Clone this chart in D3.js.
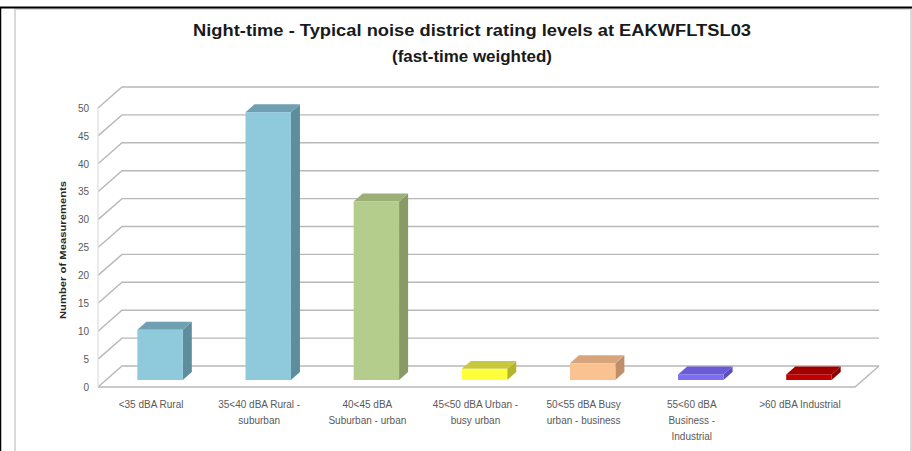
<!DOCTYPE html>
<html><head><meta charset="utf-8">
<script src="https://cdn.jsdelivr.net/npm/d3@7/dist/d3.min.js"></script>
<style>body{margin:0;background:#fff}svg{display:block}</style>
</head><body>
<script>
const categories = [
  ["<35 dBA Rural"],
  ["35<40 dBA Rural -","suburban"],
  ["40<45 dBA","Suburban - urban"],
  ["45<50 dBA Urban -","busy urban"],
  ["50<55 dBA Busy","urban - business"],
  ["55<60 dBA","Business -","Industrial"],
  [">60 dBA Industrial"]
];
const values = [9, 48, 32, 2, 3, 1, 1];
const frontColors = ["#8fc9dc","#8fc9dc","#b4cc8c","#ffff3c","#fac191","#7d6df0","#c00000"];
const topColors   = ["#6f9fb0","#6f9fb0","#9bb077","#c8c83c","#d8a47c","#6a5cd6","#a00000"];
const sideColors  = ["#5e8d9d","#5e8d9d","#889a66","#b4b42e","#bf8f6a","#5a4ec0","#8a0000"];
const yTicks = [0,5,10,15,20,25,30,35,40,45,50];
const titleLines = ["Night-time - Typical noise district rating levels at EAKWFLTSL03","(fast-time weighted)"];
const yTitle = "Number of Measurements";

const W = 912, H = 451;
const svg = d3.select("body").append("svg").attr("width", W).attr("height", H);

// frame
svg.append("rect").attr("x",15).attr("y",9).attr("width",W-16).attr("height",H).attr("fill","none").attr("stroke","#d9d9d9").attr("stroke-width",2);
svg.append("line").attr("x1",0).attr("x2",W).attr("y1",7.5).attr("y2",7.5).attr("stroke","#000").attr("stroke-width",2);
svg.append("line").attr("x1",0.5).attr("x2",0.5).attr("y1",7).attr("y2",H).attr("stroke","#000").attr("stroke-width",1.5);

// 3D oblique geometry
const DX = 24, DY = -21;
const x = d3.scaleBand().domain(d3.range(categories.length)).range([98, 855]).padding(0);
const y = d3.scaleLinear().domain([0, 50]).range([387, 108]);
const P = (px, py, f) => [px + DX*f, py + DY*f];

const grid = svg.append("g").attr("stroke","#b8b8b8").attr("stroke-width",1.4).attr("fill","none");
const x0 = x.range()[0], x1 = x.range()[1];
yTicks.forEach(t => {
  const a = P(x0, y(t), 0), b = P(x0, y(t), 1), c = P(x1, y(t), 1);
  grid.append("path").attr("d", d3.line()([a, b, c]));
});
grid.append("path").attr("d", d3.line()([P(x0,y(0),0), P(x1,y(0),0), P(x1,y(0),1)]));
grid.append("path").attr("d", d3.line()([P(x0,y(0),0), P(x0,y(50),0)])).attr("stroke","#e2e2e2");

// bars
const fF = 1/3, fB = 0.71;
const bw = x.bandwidth()*0.42;
const bars = svg.append("g");
values.forEach((v, i) => {
  const xl = x(i) + (x.bandwidth()-bw)/2;
  const xr = xl + bw;
  const [fxl, fyT] = P(xl, y(v), fF);
  const [fxr, fyB] = P(xr, y(0), fF);
  const ddx = DX*(fB-fF), ddy = DY*(fB-fF);
  const g = bars.append("g");
  g.append("path").attr("fill", sideColors[i]).attr("d", d3.line()([[fxr,fyT],[fxr+ddx,fyT+ddy],[fxr+ddx,fyB+ddy],[fxr,fyB]]) + "Z");
  g.append("path").attr("fill", topColors[i]).attr("d", d3.line()([[fxl,fyT],[fxl+ddx,fyT+ddy],[fxr+ddx,fyT+ddy],[fxr,fyT]]) + "Z");
  g.append("rect").attr("x", fxl).attr("y", fyT).attr("width", fxr-fxl).attr("height", Math.max(0, fyB-fyT)).attr("fill", frontColors[i]);
});

// y axis
const yAxis = d3.axisLeft(y).tickValues(yTicks).tickSize(0).tickPadding(0);
const ya = svg.append("g").attr("transform","translate(89,0)").call(yAxis);
ya.select(".domain").remove();
ya.selectAll("text").attr("fill","#595959").style("font-family","Liberation Sans, Arial, sans-serif").style("font-size","10px");

// x labels
const xlg = svg.append("g").style("font-family","Liberation Sans, Arial, sans-serif").style("font-size","10px").attr("fill","#595959").attr("text-anchor","middle");
categories.forEach((lines, i) => {
  const cx = x(i) + x.bandwidth()/2 - 1;
  const t = xlg.append("text").attr("x", cx).attr("y", 408);
  lines.forEach((ln, j) => t.append("tspan").attr("x", cx).attr("dy", j===0?0:16).text(ln));
});

// y title
svg.append("text").attr("transform","translate(66,250) rotate(-90)").attr("text-anchor","middle")
  .attr("textLength",138).attr("lengthAdjust","spacingAndGlyphs")
  .style("font-family","Liberation Sans, Arial, sans-serif").style("font-size","9.5px").style("font-weight","bold").attr("fill","#262626").text(yTitle);

// title
const tg = svg.append("g").style("font-family","Liberation Sans, Arial, sans-serif").style("font-weight","bold").style("font-size","16px").attr("fill","#1a1a1a").attr("text-anchor","middle");
tg.append("text").attr("x",472).attr("y",36).attr("textLength",558).attr("lengthAdjust","spacingAndGlyphs").text(titleLines[0]);
tg.append("text").attr("x",472).attr("y",62).attr("textLength",160).attr("lengthAdjust","spacingAndGlyphs").text(titleLines[1]);
</script>
</body></html>
